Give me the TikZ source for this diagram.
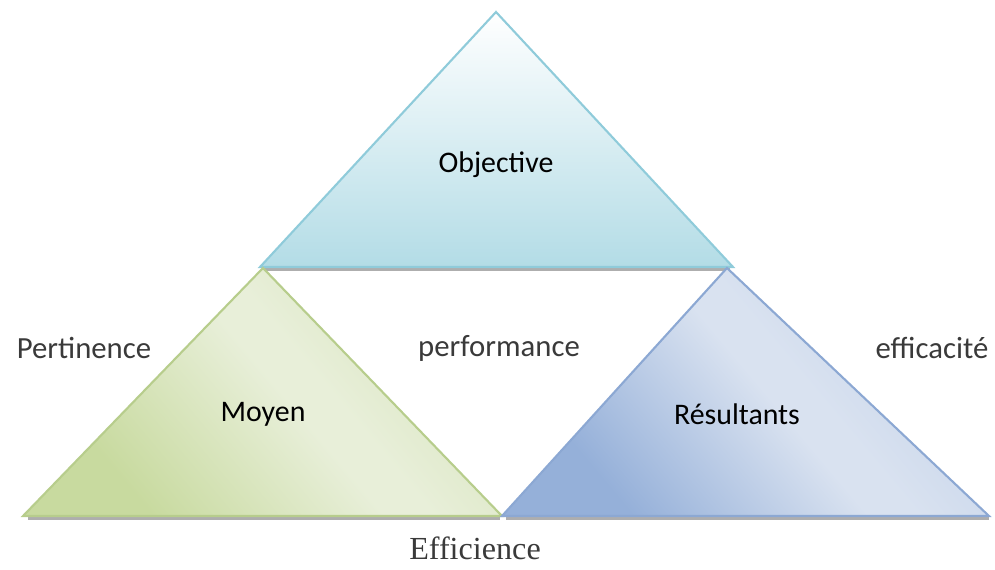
\documentclass[tikz,border=0pt]{standalone}
\usepackage{fontspec}
\setmainfont{Carlito}
\newfontfamily\serifface{Liberation Serif}
\usepackage{tikz}
\usetikzlibrary{calc,positioning}
\definecolor{objfill}{HTML}{B3DCE6}
\definecolor{objline}{HTML}{8FCBDA}
\definecolor{moyfill}{HTML}{C8DA9F}
\definecolor{moylight}{HTML}{E8EFD9}
\definecolor{moyside}{HTML}{D5E2B9}
\definecolor{moyline}{HTML}{B7CD8C}
\definecolor{resfill}{HTML}{95B0D9}
\definecolor{reslight}{HTML}{D9E2F0}
\definecolor{resside}{HTML}{C0D0E8}
\definecolor{resline}{HTML}{8CA8D3}
\definecolor{labelgray}{HTML}{3A3A3A}
% glossy diagonal fills for the lower triangles
\pgfdeclarehorizontalshading{moyshade}{100bp}{color(0bp)=(moyfill); color(28bp)=(moyfill);
  color(52bp)=(moylight); color(57bp)=(moylight); color(78bp)=(moyside); color(100bp)=(moyside)}
\pgfdeclarehorizontalshading{resshade}{100bp}{color(0bp)=(resfill); color(28bp)=(resfill);
  color(52bp)=(reslight); color(57bp)=(reslight); color(78bp)=(resside); color(100bp)=(resside)}
\tikzset{
  tri/.style={line width=1.2pt, line join=miter},
  shadowline/.style={line width=2.5pt, draw=black!45, opacity=0.7},
  inlabel/.style={font=\fontsize{17}{20}\selectfont, text=black},
  outlabel/.style={font=\fontsize{17.5}{20}\selectfont, text=labelgray}
}

\begin{document}
\begin{tikzpicture}[x=0.02cm, y=-0.02cm]
  \useasboundingbox (0,0) rectangle (995,569);

  % base shadows
  \draw[shadowline] (264,269) -- (730,269);
  \draw[shadowline] (28,518) -- (500,518);
  \draw[shadowline] (506,518) -- (989,518);

  % upper triangle
  \draw[tri, draw=objline, top color=white, bottom color=objfill]
    (496,12) -- (733,267) -- (260,267) -- cycle;
  % lower left triangle
  \draw[tri, draw=moyline, shading=moyshade, shading angle=40]
    (263,268) -- (502,516) -- (23,516) -- cycle;
  % lower right triangle
  \draw[tri, draw=resline, shading=resshade, shading angle=40]
    (727,268) -- (989,516) -- (502,516) -- cycle;

  \node[inlabel] (objective) at (496,165) {Objective};
  \node[inlabel] (moyen) at (263,414) {Moyen};
  \node[inlabel] (resultants) at (737,414) {Résultants};

  \node[outlabel] (pertinence) at (84,348) {Pertinence};
  \node[outlabel] (performance) at (499,348) {performance};
  \node[outlabel] (efficacite) at (932,348) {efficacité};
  \node[outlabel, font=\serifface\fontsize{18.3}{20}\selectfont] (efficience) at (475,548) {Efficience};
\end{tikzpicture}
\end{document}
